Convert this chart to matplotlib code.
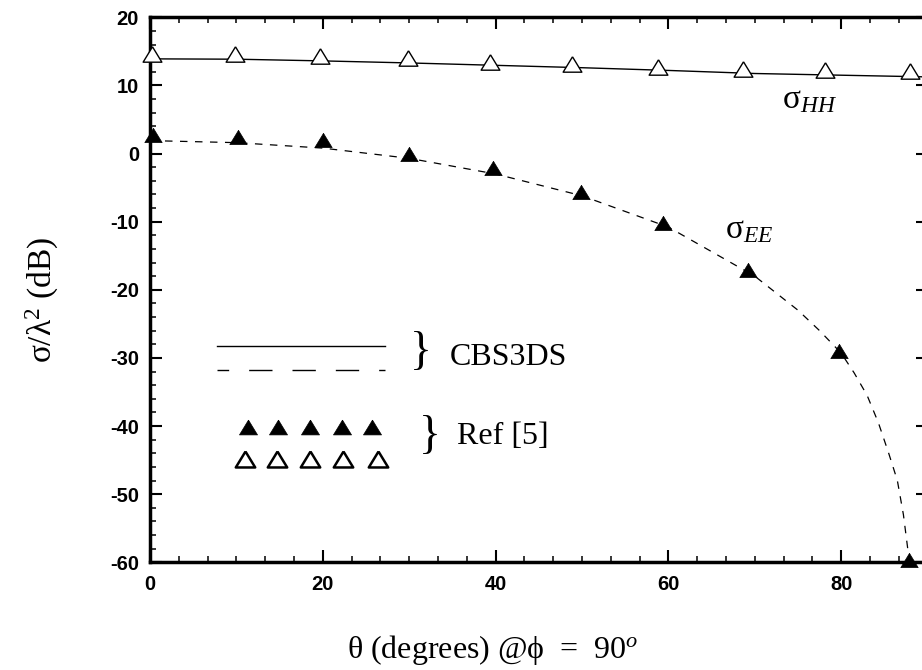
import matplotlib
matplotlib.use("Agg")
import matplotlib.pyplot as plt
from matplotlib.ticker import MultipleLocator

plt.rcParams['mathtext.fontset'] = 'custom'
plt.rcParams['mathtext.rm'] = 'Liberation Serif'
plt.rcParams['mathtext.it'] = 'Liberation Serif:italic'
plt.rcParams['mathtext.bf'] = 'Liberation Serif:bold'
plt.rcParams['axes.unicode_minus'] = False

# ---- data ----
theta_line = [0, 10, 20, 30, 40, 50, 60, 70, 80, 88, 90]
hh_line = [13.9, 13.85, 13.6, 13.3, 12.95, 12.6, 12.2, 11.75, 11.5, 11.3, 11.25]

theta_ee_line = [0, 10, 20, 30, 40, 50, 60, 70, 75, 77.5, 80, 81.5, 83, 84.3,
                 85.5, 86.5, 87.2, 87.9]
ee_line = [1.9, 1.6, 0.8, -0.7, -3.0, -6.2, -10.8, -18.0, -23.0, -26.0, -29.3,
           -32.2, -35.5, -39.5, -44.0, -48.0, -53.0, -60.0]

theta_hh_ref = [0.2, 9.8, 19.7, 29.9, 39.4, 48.9, 58.8, 68.6, 78.1, 88.0]
hh_ref = [14.6, 14.6, 14.3, 14.0, 13.5, 13.2, 12.7, 12.4, 12.3, 12.1]

theta_ee_ref = [0.4, 10.2, 20.0, 30.0, 39.7, 49.9, 59.4, 69.2, 79.8, 87.9]
ee_ref = [2.7, 2.5, 2.0, 0.0, -2.1, -5.6, -10.2, -17.1, -29.0, -59.7]

xticks = [0, 20, 40, 60, 80]
yticks = [20, 10, 0, -10, -20, -30, -40, -50, -60]

# legend decoration layout (data coords)
leg_line_x = [7.7, 27.2]
leg_solid_y = -28.2
leg_dash_y = -31.8
leg_filled_x = [11.3, 14.8, 18.5, 22.2, 25.7]
leg_filled_y = -40.1
leg_open_x = [11.0, 14.7, 18.5, 22.3, 26.4]
leg_open_y = -44.8

W, H = 922, 670
fig = plt.figure(figsize=(W / 100, H / 100), dpi=100)
ax = fig.add_axes([150 / W, (H - 562.3) / H, 777.6 / W, 545 / H])

tri = [(0, 0.82), (-1, -0.82), (1, -0.82), (0, 0.82)]

ax.plot(theta_line, hh_line, color='black', lw=1.0, zorder=2)
ax.plot(theta_ee_line, ee_line, color='black', lw=0.9, ls=(0, (6, 6)), zorder=2)
ax.plot(theta_hh_ref, hh_ref, ls='none', marker=tri, ms=13.5, mfc='white',
        mec='black', mew=1.0, zorder=3, clip_on=False)
ax.plot(theta_ee_ref, ee_ref, ls='none', marker=tri, ms=12.5, mfc='black',
        mec='black', mew=0.5, zorder=3, clip_on=False)

# legend-like decorations
ax.plot(leg_line_x, [leg_solid_y] * 2, color='black', lw=1.0)
ax.plot(leg_line_x, [leg_dash_y] * 2, color='black', lw=1.0, ls=(8.4, (16.8, 14.4)))
ax.plot(leg_filled_x, [leg_filled_y] * 5, ls='none', marker=tri, ms=13,
        mfc='black', mec='black', mew=0.5)
ax.plot(leg_open_x, [leg_open_y] * 5, ls='none', marker=tri, ms=14,
        mfc='white', mec='black', mew=1.8)

serif = ['Liberation Serif', 'DejaVu Serif']
ax.text(31.4, -29.3, '}', family=serif, fontsize=33, ha='center', va='center')
ax.text(34.7, -30.0, 'CBS3DS', family=serif, fontsize=23, ha='left', va='center')
ax.text(32.4, -41.6, '}', family=serif, fontsize=33, ha='center', va='center')
ax.text(35.5, -41.5, 'Ref [5]', family=serif, fontsize=23, ha='left', va='center')
ax.text(73.1, 8.0, r'$\mathrm{\sigma}_{HH}$', fontsize=24, ha='left', va='center')
ax.text(66.6, -11.0, r'$\mathrm{\sigma}_{EE}$', fontsize=24, ha='left', va='center')

ax.set_xlim(0, 90)
ax.set_ylim(-60, 20)
ax.set_xticks(xticks)
ax.set_yticks(yticks)
ax.xaxis.set_minor_locator(MultipleLocator(20 / 6))
ax.yaxis.set_minor_locator(MultipleLocator(2))
ax.tick_params(which='both', direction='in', top=True, right=True, colors='black')
ax.tick_params(which='major', length=8.6, width=1.5)
ax.tick_params(which='minor', length=4.3, width=1.1)
ax.tick_params(axis='x', which='major', pad=9)
ax.tick_params(axis='y', which='major', pad=8)
for lab in ax.get_xticklabels() + ax.get_yticklabels():
    lab.set_family('Liberation Sans')
    lab.set_fontweight('bold')
    lab.set_fontsize(14.5)
for s in ax.spines.values():
    s.set_linewidth(2.5)

fig.text(493 / W, 1 - 650 / H, r'θ (degrees) @ϕ  =  90$^{\mathit{o}}$', family=serif,
         fontsize=23, ha='center', va='center')
fig.text(42 / W, 1 - 300 / H, r'σ/λ$^{2}$ (dB)', family=serif, fontsize=24,
         ha='center', va='center', rotation=90)

fig.savefig('out.png', dpi=100)
